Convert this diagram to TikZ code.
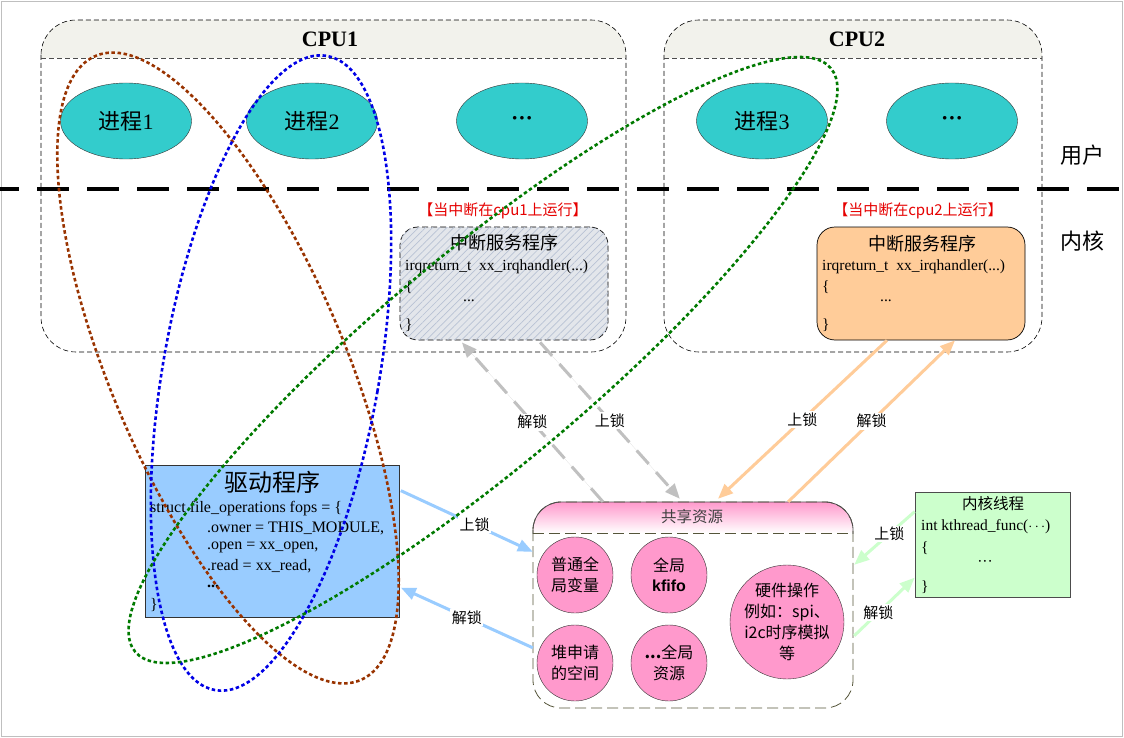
\documentclass[tikz,border=0pt]{standalone}
\usepackage{fontspec}
\setmainfont{Liberation Serif}
\newfontfamily\cjk{Noto Sans CJK SC}
\newfontfamily\sansf{Liberation Sans}
\usetikzlibrary{arrows.meta,shapes.geometric,patterns.meta,calc}
\definecolor{teal1}{HTML}{33CCCC}
\definecolor{isrorange}{HTML}{FFCC99}
\definecolor{drvblue}{HTML}{99CCFF}
\definecolor{thrgreen}{HTML}{CCFFCC}
\definecolor{respink}{HTML}{FF99CC}
\definecolor{hdrgray}{HTML}{F2F2EC}
\definecolor{lockgray}{HTML}{C0C0C0}
\definecolor{loopbrown}{HTML}{993300}
\definecolor{loopblue}{HTML}{0000E6}
\definecolor{loopgreen}{HTML}{007A00}
\definecolor{hatchbg}{HTML}{E3E6EB}
\definecolor{hatchline}{HTML}{B8C2D4}
\definecolor{resline}{HTML}{55553A}
\definecolor{redlbl}{HTML}{E60000}
\newcommand\fsz[2]{\fontsize{#1}{#2}\selectfont}
\begin{document}
\begin{tikzpicture}[x=1pt,y=-1pt,
  proc/.style={ellipse, draw=black!80, fill=teal1, minimum width=131pt, minimum height=76pt, inner sep=0pt, font=\fsz{22}{26}},
  cpubox/.style={draw=black, dashed, dash pattern=on 5pt off 3pt, line width=0.6pt},
  isrbox/.style={rectangle, rounded corners=18pt, minimum width=208pt, minimum height=113pt, inner sep=0pt},
  code/.style={inner sep=0pt, font=\fsz{15.5}{19}},
  redtxt/.style={inner sep=0pt, text=redlbl, font=\cjk\fsz{15}{17}},
  lbl/.style={fill=white, inner sep=1.5pt, font=\cjk\fsz{15}{17}},
  lockarrow/.style={line width=3pt, -{Triangle[length=15pt,width=12pt]}},
  graylock/.style={lockarrow, draw=lockgray, fill=lockgray, dash pattern=on 18pt off 11pt},
  orangelock/.style={lockarrow, draw=isrorange, fill=isrorange},
  bluelock/.style={lockarrow, draw=drvblue, fill=drvblue},
  greenlock/.style={lockarrow, draw=thrgreen, fill=thrgreen},
  rescirc/.style={circle, draw=black!80, fill=respink, minimum size=76pt, inner sep=0pt},
  circtxt/.style={align=center, inner sep=0pt, font=\cjk\fsz{16}{20.5}},
  loopline/.style={line width=2.6pt, dash pattern=on 3.5pt off 2.6pt}
]
\useasboundingbox (0,0) rectangle (1124,738);
\fill[white] (0,0) rectangle (1124,738);
\draw[black!25, line width=1pt] (1.5,1.5) rectangle (1122.5,736.5);

% CPU1 box
\begin{scope}
  \clip[rounded corners=35pt] (41,20) rectangle (626,352);
  \fill[hdrgray] (41,20) rectangle (626,58);
\end{scope}
\draw[cpubox, rounded corners=35pt] (41,20) rectangle (626,352);
\draw[black!70, dashed, dash pattern=on 5pt off 3pt, line width=0.8pt] (41,58) -- (626,58);
\node[font=\bfseries\fsz{22}{26}] (cpu1) at (330,39) {CPU1};

% CPU2 box
\begin{scope}
  \clip[rounded corners=35pt] (664,20) rectangle (1042,352);
  \fill[hdrgray] (664,20) rectangle (1042,58);
\end{scope}
\draw[cpubox, rounded corners=35pt] (664,20) rectangle (1042,352);
\draw[black!70, dashed, dash pattern=on 5pt off 3pt, line width=0.8pt] (664,58) -- (1042,58);
\node[font=\bfseries\fsz{22}{26}] (cpu2) at (857,39) {CPU2};

% user / kernel divider
\draw[black, line width=4.5pt, dash pattern=on 32pt off 18pt, dash phase=13pt] (0,189) -- (1124,189);
\node[font=\cjk\fsz{22}{26}] (user) at (1082,155) {用户};
\node[font=\cjk\fsz{22}{26}] (kern) at (1082,241) {内核};

% processes
\node[proc] (p1) at (126,121) {{\cjk 进程}1};
\node[proc] (p2) at (312,121) {{\cjk 进程}2};
\node[proc] (p3) at (522,121) {\bfseries ···};
\node[proc] (p4) at (762,121) {{\cjk 进程}3};
\node[proc] (p5) at (952,121) {\bfseries ···};

% ISR on CPU1
\node[redtxt] (r1) at (503,211) {【当中断在cpu1上运行】};
\node[isrbox, draw=black, dashed, dash pattern=on 6pt off 3pt, line width=0.7pt, fill=hatchbg,
      postaction={pattern={Lines[angle=45,distance=5pt,line width=0.7pt]}, pattern color=hatchline}] (isr1) at (504,283.5) {};
\node[font=\cjk\fsz{18}{20}, inner sep=0pt] (isr1t) at (504,243) {中断服务程序};
\node[code, anchor=west] (isr1a) at (405,267) {irqreturn\_t\ \ xx\_irqhandler(...)};
\node[code, anchor=west] (isr1b) at (405,287) {\{};
\node[code] (isr1c) at (469,301) {...};
\node[code, anchor=west] (isr1d) at (405,325) {\}};

% ISR on CPU2
\node[redtxt] (r2) at (918,211) {【当中断在cpu2上运行】};
\node[isrbox, draw=black, line width=0.7pt, fill=isrorange] (isr2) at (921,283.5) {};
\node[font=\cjk\fsz{18}{20}, inner sep=0pt] (isr2t) at (922,244) {中断服务程序};
\node[code, anchor=west] (isr2a) at (822,267) {irqreturn\_t\ \ xx\_irqhandler(...)};
\node[code, anchor=west] (isr2b) at (822,287) {\{};
\node[code] (isr2c) at (886,301) {...};
\node[code, anchor=west] (isr2d) at (822,325) {\}};

% driver
\node[rectangle, draw=black!80, line width=0.7pt, fill=drvblue, minimum width=254pt, minimum height=152pt, inner sep=0pt] (drv) at (272.5,541) {};
\node[font=\cjk\fsz{24}{26}, inner sep=0pt] (drvt) at (272,482) {驱动程序};
\node[code, font=\fsz{16}{19}, anchor=west] (d1) at (150,509) {struct file\_operations fops = \{};
\node[code, font=\fsz{16}{19}, anchor=west] (d2) at (207,528) {.owner = THIS\_MODULE,};
\node[code, font=\fsz{16}{19}, anchor=west] (d3) at (207,547) {.open = xx\_open,};
\node[code, font=\fsz{16}{19}, anchor=west] (d4) at (207,566) {.read = xx\_read,};
\node[code, font=\bfseries\fsz{16}{19}, anchor=base west] (d5) at (207,587) {...};
\node[code, font=\fsz{16}{19}, anchor=west] (d6) at (150,605) {\}};

% shared resources
\node[rectangle, minimum width=320pt, minimum height=206pt, inner sep=0pt] (res) at (693,605) {};
\begin{scope}
  \clip[rounded corners=28pt] (533,502) rectangle (853,708);
  \shade[top color=respink, bottom color=white] (533,502) rectangle (853,533);
\end{scope}
\draw[resline, line width=0.8pt, dash pattern=on 11pt off 5pt, rounded corners=28pt] (533,502) rectangle (853,708);
\begin{scope}
  \clip (520,495) rectangle (866,533);
  \draw[black!70, line width=0.8pt, rounded corners=28pt] (533,502) rectangle (853,708);
\end{scope}
\draw[resline, line width=0.8pt, dash pattern=on 11pt off 5pt] (533,533) -- (853,533);
\node[font=\cjk\fsz{15.5}{18}, inner sep=0pt, text=black!75] (rest) at (692,517) {共享资源};
\node[rescirc] (c1) at (575,575) {};
\node[circtxt] at (c1) {普通全\\局变量};
\node[rescirc] (c2) at (669,575) {};
\node[circtxt] at (c2) {全局\\{\sansf\bfseries kfifo}};
\node[rescirc] (c3) at (575,663) {};
\node[circtxt] at (c3) {堆申请\\的空间};
\node[rescirc] (c4) at (669,663) {};
\node[circtxt] at (c4) {{\bfseries ...}全局\\资源};
\node[rescirc, minimum size=114pt] (c5) at (787,622) {};
\node[circtxt, font=\cjk\fsz{16}{21}] at (c5) {硬件操作\\例如：spi、\\i2c时序模拟\\等};

% kernel thread
\node[rectangle, draw=black!70, line width=0.7pt, fill=thrgreen, minimum width=155pt, minimum height=105pt, inner sep=0pt] (kth) at (992.5,544.5) {};
\node[font=\cjk\fsz{15.5}{18}, inner sep=0pt] (ktht) at (993,504) {内核线程};
\node[code, font=\fsz{15.5}{19}, anchor=west] (k1) at (921,527) {int kthread\_func($\cdots$)};
\node[code, font=\fsz{15.5}{19}, anchor=west] (k2) at (921,548) {\{};
\node[code, font=\fsz{15.5}{19}] (k3) at (985,563) {···};
\node[code, font=\fsz{15.5}{19}, anchor=west] (k4) at (921,587) {\}};

% lock arrows: ISR1 (gray dashed)
\draw[graylock] ($(res.north west)!0.219!(res.north east)$) -- ($(isr1.south west)!0.298!(isr1.south east)+(0,2)$) node[lbl, pos=0.5, solid] {解锁};
\draw[graylock] ($(isr1.south west)!0.673!(isr1.south east)+(0,2)$) -- ($(res.north west)!0.459!(res.north east)+(0,-3)$) node[lbl, pos=0.5] {上锁};
% ISR2 (orange)
\draw[orangelock] ($(isr2.south west)!0.337!(isr2.south east)$) -- ($(res.north west)!0.578!(res.north east)+(0,-3)$) node[lbl, pos=0.5] {上锁};
\draw[orangelock] ($(res.north west)!0.797!(res.north east)$) -- ($(isr2.south west)!0.663!(isr2.south east)$) node[lbl, pos=0.5] {解锁};
% driver (blue)
\draw[bluelock] ($(drv.north east)+(1,26)$) -- ($(res.north west)+(0,50)$) node[lbl, pos=0.56] {上锁};
\draw[bluelock] ($(res.north west)+(0,146)$) -- ($(drv.north east)+(1,123)$) node[lbl, pos=0.5] {解锁};
% kernel thread (green)
\draw[greenlock] ($(kth.north west)+(0,20)$) -- ($(res.north east)+(1,63)$) node[lbl, pos=0.42] {上锁};
\draw[greenlock] ($(res.north east)+(1,134)$) -- ($(kth.north west)+(0,86)$) node[lbl, pos=0.4] {解锁};

% dotted loops
\draw[loopline, loopbrown, shift={(228,368)}, rotate=23] (0,0) ellipse [x radius=117pt, y radius=339pt];
\draw[loopline, loopblue, shift={(271,373)}, rotate=-10] (0,0) ellipse [x radius=108pt, y radius=322pt];
\draw[loopline, loopgreen, shift={(483,360)}, rotate=40] (0,0) ellipse [x radius=454pt, y radius=106pt];
\end{tikzpicture}
\end{document}
